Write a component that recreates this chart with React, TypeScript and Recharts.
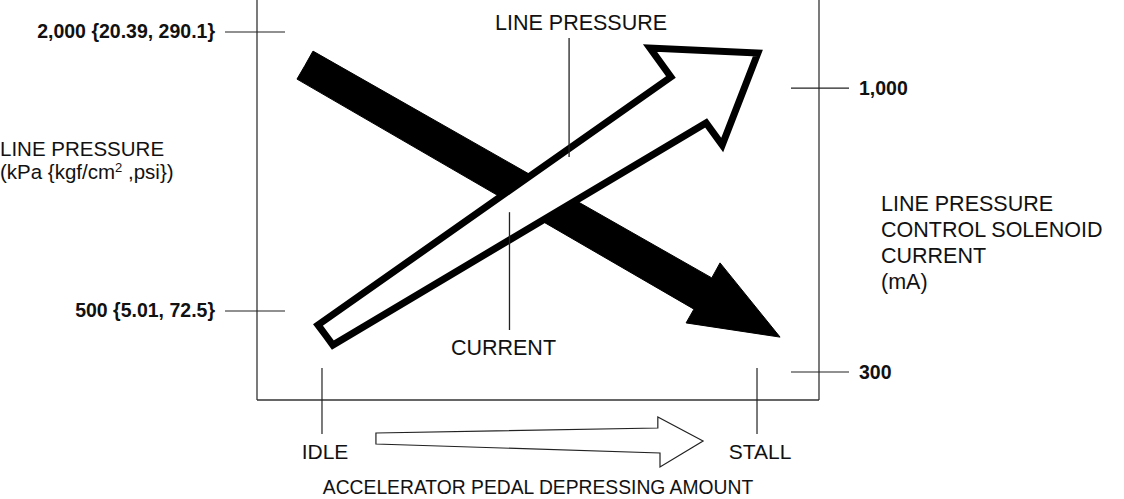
import { ComposedChart, Line, XAxis, YAxis, ReferenceLine } from 'recharts';

// pedal travel, 0 = idle, 100 = stall
const PEDAL_MIN = -14.94;
const PEDAL_MAX = 114.25;
const PEDAL_TICKS = [0, 100];
const PEDAL_LABELS = ['IDLE', 'STALL'];

// line pressure axis (kPa)
const KPA_DOMAIN = [21.5, 2172];
const KPA_TICKS = [500, 2000];
const KPA_LABELS = ['500 {5.01, 72.5}', '2,000 {20.39, 290.1}'];

// solenoid current axis (mA)
const MA_DOMAIN = [231, 1217];
const MA_TICKS = [300, 1000];
const MA_LABELS = ['300', '1,000'];

// hollow arrow: line pressure rises with pedal (outline, starts mid-tail)
const pressureArrow = [
  { x: 0.8, y: 371 },
  { x: -0.92, y: 425 },
  { x: 80.2, y: 1758 },
  { x: 75.4, y: 1914 },
  { x: 100.2, y: 1887 },
  { x: 92.0, y: 1392 },
  { x: 88.3, y: 1511 },
  { x: 2.5, y: 317 },
  { x: 0.8, y: 371 },
];

// solid arrow: solenoid current falls with pedal
const currentArrow = [
  { x: -3.9, y: 1056 },
  { x: -2.07, y: 1091 },
  { x: 89.6, y: 532 },
  { x: 91.5, y: 569 },
  { x: 105.3, y: 386 },
  { x: 83.7, y: 421 },
  { x: 85.5, y: 455 },
  { x: -5.75, y: 1022 },
  { x: -3.9, y: 1056 },
];

// little direction arrow under the axis: pedal units, px below axis line
const pedalArrowX = [12.4, 77.2, 77.2, 87.6, 77.7, 77.7, 12.4];
const pedalArrowY = [33, 28, 17, 41, 67, 53, 44];

const FONT = '"Liberation Sans", Arial, Helvetica, sans-serif';
const INK = '#111';

const LeftTick = (props: any) => {
  const { x, y, payload } = props;
  const label = KPA_LABELS[KPA_TICKS.indexOf(payload.value)];
  return (
    <g>
      <line x1={x - 32} x2={x + 28} y1={y} y2={y} stroke="#222" strokeWidth={1.2} />
      <text x={x - 42} y={y + 6} textAnchor="end" fontFamily={FONT} fontWeight="bold" fontSize={19.5} fill={INK}>
        {label}
      </text>
    </g>
  );
};

const RightTick = (props: any) => {
  const { x, y, payload } = props;
  const label = MA_LABELS[MA_TICKS.indexOf(payload.value)];
  return (
    <g>
      <line x1={x - 28} x2={x + 30} y1={y} y2={y} stroke="#222" strokeWidth={1.2} />
      <text x={x + 40} y={y + 6.5} textAnchor="start" fontFamily={FONT} fontWeight="bold" fontSize={19.5} fill={INK}>
        {label}
      </text>
    </g>
  );
};

const BottomTick = (props: any) => {
  const { x, y, payload } = props;
  const label = PEDAL_LABELS[PEDAL_TICKS.indexOf(payload.value)];
  return (
    <g>
      <line x1={x} x2={x} y1={y - 32} y2={y + 34} stroke="#222" strokeWidth={1.2} />
      <text x={x + 3} y={y + 59} textAnchor="middle" fontFamily={FONT} fontSize={21} fill={INK}>
        {label}
      </text>
    </g>
  );
};

const PressureTitle = (props: any) => {
  const { viewBox } = props;
  const x = viewBox.x;
  return (
    <text fontFamily={FONT} fontSize={20.5} fill={INK}>
      <tspan x={x} y={156}>LINE PRESSURE</tspan>
      <tspan x={x} y={179}>(kPa {'{'}kgf/cm</tspan>
      <tspan fontSize={13} dy={-7}>2</tspan>
      <tspan dy={7}> ,psi{'}'})</tspan>
    </text>
  );
};

const CurrentTitle = (props: any) => {
  const { viewBox } = props;
  const x = viewBox.x + 62;
  const lines = ['LINE PRESSURE', 'CONTROL SOLENOID', 'CURRENT', '(mA)'];
  return (
    <text fontFamily={FONT} fontSize={21.5} fill={INK}>
      {lines.map((t, i) => (
        <tspan key={t} x={x} y={211 + i * 26}>
          {t}
        </tspan>
      ))}
    </text>
  );
};

const PedalTitle = (props: any) => {
  const { viewBox } = props;
  const sx = (d: number) => viewBox.x + ((d - PEDAL_MIN) / (PEDAL_MAX - PEDAL_MIN)) * viewBox.width;
  const pts = pedalArrowX.map((d, i) => `${sx(d)},${viewBox.y + pedalArrowY[i]}`).join(' ');
  return (
    <g>
      <polygon points={pts} fill="#fff" stroke="#222" strokeWidth={1.2} />
      <text
        x={viewBox.x + viewBox.width / 2}
        y={viewBox.y + 94}
        textAnchor="middle"
        fontFamily={FONT}
        fontSize={19.3}
        fill={INK}
      >
        ACCELERATOR PEDAL DEPRESSING AMOUNT
      </text>
    </g>
  );
};

const LeaderTop = (props: any) => {
  const { viewBox } = props;
  return (
    <text x={viewBox.x + 12} y={viewBox.y - 8} textAnchor="middle" fontFamily={FONT} fontSize={21.5} fill={INK}>
      LINE PRESSURE
    </text>
  );
};

const LeaderBottom = (props: any) => {
  const { viewBox } = props;
  return (
    <text
      x={viewBox.x - 6}
      y={viewBox.y + viewBox.height + 25}
      textAnchor="middle"
      fontFamily={FONT}
      fontSize={21.5}
      fill={INK}
    >
      CURRENT
    </text>
  );
};

export default function App() {
  return (
    <div style={{ position: 'absolute', left: 0, top: 0, width: 1124, height: 499, background: '#fff', fontFamily: FONT }}>
      <style>{`
        .arrow-solid .recharts-line-curve { fill: #000; }
        .arrow-hollow .recharts-line-curve { fill: #fff; }
      `}</style>
      <ComposedChart width={1124} height={499} margin={{ top: 0, right: 0, bottom: 0, left: 0 }}>
        <XAxis
          type="number"
          dataKey="x"
          domain={[PEDAL_MIN, PEDAL_MAX]}
          ticks={PEDAL_TICKS}
          interval={0}
          allowDataOverflow
          height={99}
          tickSize={0}
          tickMargin={0}
          tickLine={false}
          axisLine={{ stroke: '#333', strokeWidth: 1.3 }}
          tick={<BottomTick />}
          label={<PedalTitle />}
        />
        <YAxis
          yAxisId="kpa"
          orientation="left"
          type="number"
          domain={KPA_DOMAIN}
          ticks={KPA_TICKS}
          interval={0}
          allowDataOverflow
          width={257}
          tickSize={0}
          tickMargin={0}
          tickLine={false}
          axisLine={{ stroke: '#333', strokeWidth: 1.3 }}
          tick={<LeftTick />}
          label={<PressureTitle />}
        />
        <YAxis
          yAxisId="ma"
          orientation="right"
          type="number"
          domain={MA_DOMAIN}
          ticks={MA_TICKS}
          interval={0}
          allowDataOverflow
          width={305}
          tickSize={0}
          tickMargin={0}
          tickLine={false}
          axisLine={{ stroke: '#333', strokeWidth: 1.3 }}
          tick={<RightTick />}
          label={<CurrentTitle />}
        />
        <Line
          yAxisId="ma"
          data={currentArrow}
          dataKey="y"
          type="linear"
          className="arrow-solid"
          stroke="#000"
          strokeWidth={1}
          dot={false}
          activeDot={false}
          isAnimationActive={false}
        />
        <Line
          yAxisId="kpa"
          data={pressureArrow}
          dataKey="y"
          type="linear"
          className="arrow-hollow"
          stroke="#000"
          strokeWidth={7}
          strokeLinejoin="miter"
          strokeMiterlimit={10}
          dot={false}
          activeDot={false}
          isAnimationActive={false}
        />
        <ReferenceLine
          yAxisId="kpa"
          segment={[
            { x: 56.8, y: 1968 },
            { x: 56.8, y: 1328 },
          ]}
          stroke="#222"
          strokeWidth={1.3}
          ifOverflow="visible"
          label={<LeaderTop />}
        />
        <ReferenceLine
          yAxisId="ma"
          segment={[
            { x: 43.1, y: 694 },
            { x: 43.1, y: 403.5 },
          ]}
          stroke="#222"
          strokeWidth={1.3}
          ifOverflow="visible"
          label={<LeaderBottom />}
        />
      </ComposedChart>
    </div>
  );
}
